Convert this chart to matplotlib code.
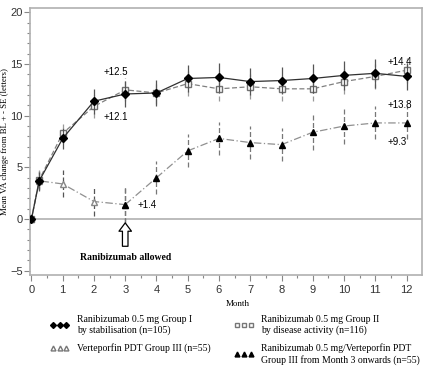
import numpy as np
import matplotlib.pyplot as plt
from matplotlib.lines import Line2D

months = [0, 0.25, 1, 2, 3, 4, 5, 6, 7, 8, 9, 10, 11, 12]
grp1 = [0, 3.7, 7.8, 11.4, 12.1, 12.2, 13.6, 13.7, 13.3, 13.4, 13.6, 13.9, 14.1, 13.8]
grp1_se = [0, 0.9, 1.0, 1.2, 1.3, 1.3, 1.3, 1.4, 1.3, 1.3, 1.4, 1.4, 1.4, 1.3]
grp2 = [0, 3.8, 8.3, 10.9, 12.5, 12.2, 13.1, 12.6, 12.8, 12.6, 12.6, 13.3, 13.8, 14.4]
grp2_se = [0, 0.9, 0.9, 1.1, 1.1, 1.1, 1.2, 1.2, 1.2, 1.2, 1.2, 1.2, 1.2, 1.2]

months_pdt = [0, 0.25, 1, 2, 3]
grp3 = [0, 3.7, 3.4, 1.7, 1.4]
grp3_se = [0, 1.0, 1.3, 1.4, 1.8]

months_rbz = [3, 4, 5, 6, 7, 8, 9, 10, 11, 12]
grp3b = [1.4, 4.0, 6.6, 7.8, 7.4, 7.2, 8.4, 9.0, 9.3, 9.3]
grp3b_se = [1.8, 1.6, 1.6, 1.6, 1.6, 1.6, 1.7, 1.7, 1.6, 1.6]

serif = 'Liberation Serif'
sans = 'Liberation Sans'

fig = plt.figure(figsize=(4.33, 3.72), dpi=100)
ax = fig.add_axes([0.069, 0.261, 0.906, 0.717])

ax.axhline(0, color='#b0b0b0', lw=1.2, zorder=0)

eb = ax.errorbar(months_pdt, grp3, yerr=grp3_se, color='#909090', ls=(0, (6, 2, 1, 2)), lw=0.9,
                 marker='^', ms=5, mfc='white', mec='#888888', ecolor='#555555', elinewidth=0.9,
                 capsize=0, zorder=2)
eb[2][0].set_linestyle((0, (4, 2)))
eb = ax.errorbar(months_rbz, grp3b, yerr=grp3b_se, color='#909090', ls=(0, (6, 2, 1, 2)), lw=0.9,
                 marker='^', ms=5, mfc='black', mec='black', ecolor='#777777', elinewidth=0.9,
                 capsize=0, zorder=3)
eb[2][0].set_linestyle((0, (4, 2)))
eb = ax.errorbar(months, grp2, yerr=grp2_se, color='#808080', ls=(0, (4, 2)), lw=0.9,
                 marker='s', ms=5, mfc='white', mec='#707070', ecolor='#999999', elinewidth=0.9,
                 capsize=0, zorder=3)
eb[2][0].set_linestyle((0, (4, 2)))
ax.errorbar(months, grp1, yerr=grp1_se, color='#303030', ls='-', lw=0.9,
            marker='D', ms=4.5, mfc='black', mec='black', ecolor='#555555', elinewidth=0.9,
            capsize=0, zorder=4)

ann = [(2.3, 14.2, '+12.5'), (2.3, 9.9, '+12.1'), (11.4, 15.2, '+14.4'),
       (11.4, 11.0, '+13.8'), (11.4, 7.5, '+9.3'), (3.4, 1.4, '+1.4')]
for x, y, s in ann:
    ax.text(x, y, s, fontsize=7, family=sans, va='center')

ax.annotate('', xy=(3, -0.1), xytext=(3, -2.9),
            arrowprops=dict(arrowstyle='simple,head_width=0.9,head_length=0.6,tail_width=0.4',
                            fc='white', ec='black', lw=0.9))
ax.text(3, -3.75, 'Ranibizumab allowed', fontsize=7, family=serif, weight='bold', ha='center', va='center')

ax.set_xlim(-0.05, 12.5)
ax.set_ylim(-5.4, 20.4)
ax.set_xticks(range(13))
ax.set_xticks(np.arange(0.5, 12.5, 0.5), minor=True)
ax.set_yticks([-5, 0, 5, 10, 15, 20])
ax.set_yticks(range(-5, 21), minor=True)
ax.tick_params(labelsize=8, length=4, color='#888888', width=0.8)
ax.tick_params(axis='y', pad=1)
ax.tick_params(which='minor', length=2, color='#888888', width=0.8)
for lab in ax.get_xticklabels() + ax.get_yticklabels():
    lab.set_family(sans)
    lab.set_color('#333333')
for sp in ax.spines.values():
    sp.set_color('#b0b0b0')
    sp.set_linewidth(1.2)

fig.text(238 / 433, 1 - 304 / 372, 'Month', fontsize=6.5, family=serif, ha='center', va='center')
ax.set_ylabel('Mean VA change from BL + - SE (letters)', fontsize=6.3, family=serif, labelpad=1)

handles = [
    Line2D([], [], ls='none', marker='D', ms=3, mfc='black', mec='black'),
    Line2D([], [], ls='none', marker='^', ms=3.5, mfc='white', mec='#777777'),
    Line2D([], [], ls='none', marker='s', ms=3.5, mfc='white', mec='#777777'),
    Line2D([], [], ls='none', marker='^', ms=3.5, mfc='black', mec='black'),
]
labels = [
    'Ranibizumab 0.5 mg Group I\nby stabilisation (n=105)',
    'Verteporfin PDT Group III (n=55)',
    'Ranibizumab 0.5 mg Group II\nby disease activity (n=116)',
    'Ranibizumab 0.5 mg/Verteporfin PDT\nGroup III from Month 3 onwards (n=55)',
]
fig.legend(handles, labels, ncol=2, loc='upper left', bbox_to_anchor=(0.095, 0.178),
           frameon=False, numpoints=3, handlelength=2.0, handletextpad=0.8,
           columnspacing=2.4, labelspacing=0.9, prop={'family': serif, 'size': 7})

fig.savefig('out.png', dpi=100)
